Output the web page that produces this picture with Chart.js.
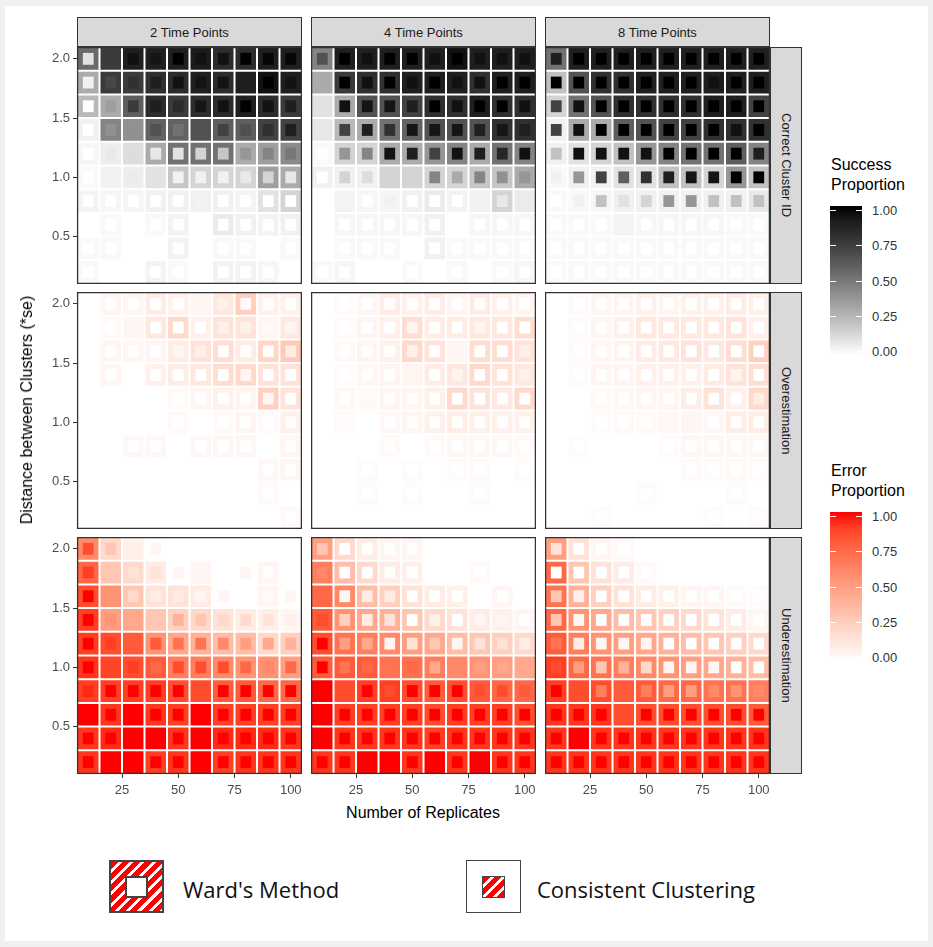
<!DOCTYPE html>
<html>
<head>
<meta charset="utf-8">
<script src="https://cdn.jsdelivr.net/npm/chart.js@4.4.1/dist/chart.umd.min.js"></script>
<style>
  body { margin: 0; background: #f0f0f0; font-family: "Liberation Sans", Arial, sans-serif; }
  #page { position: absolute; left: 5px; top: 6px; width: 923px; height: 935px; background: #fff; }
  .abs { position: absolute; white-space: nowrap; }
  .strip { position: absolute; box-sizing: border-box; background: #d9d9d9; border: 1px solid #333;
           color: #1a1a1a; font-size: 13px; display: flex; align-items: center; justify-content: center; }
  .strip.side { writing-mode: vertical-rl; }
  .title { font-size: 16px; color: #000; }
  .legtitle { font-size: 16px; line-height: 20px; color: #000; }
  .leglab { font-size: 13px; color: #333; transform: translateY(-50%); }
  .tick { position: absolute; height: 1px; background: #fff; }
  .stripes { background: repeating-linear-gradient(135deg, #ff0000 0 5px, #fff 5px 8px); }
  .keytext { font-family: "Open Sans", sans-serif; font-size: 22px; color: #111; transform: translateY(-50%); }
</style>
</head>
<body>
<div id="page"></div>
<script>
// x: number of replicates, y: distance between clusters
const REPLICATES = [10, 20, 30, 40, 50, 60, 70, 80, 90, 100];
const DISTANCES = [2.0, 1.8, 1.6, 1.4, 1.2, 1.0, 0.8, 0.6, 0.4, 0.2];
const X_TICKS = [25, 50, 75, 100];
const Y_TICKS = [0.5, 1.0, 1.5, 2.0];
const TIME_POINTS = ['2 Time Points', '4 Time Points', '8 Time Points'];
const OUTCOMES = ['Correct Cluster ID', 'Overestimation', 'Underestimation'];
const LEGEND_TICKS = [1.00, 0.75, 0.50, 0.25, 0.00];

// proportions, rows follow DISTANCES (top to bottom), columns follow REPLICATES
const WARD_CORRECT_2 = [
  [0.55, 0.75, 0.88, 0.88, 0.88, 0.9, 0.82, 0.82, 0.88, 0.88],
  [0.3, 0.75, 0.75, 0.8, 0.82, 0.88, 0.82, 0.88, 0.95, 0.88],
  [0.25, 0.3, 0.6, 0.82, 0.75, 0.82, 0.82, 0.88, 0.82, 0.75],
  [0.05, 0.45, 0.4, 0.58, 0.58, 0.65, 0.6, 0.6, 0.72, 0.72],
  [0.03, 0.06, 0.12, 0.3, 0.52, 0.52, 0.52, 0.3, 0.35, 0.42],
  [0.02, 0.05, 0.06, 0.1, 0.2, 0.15, 0.15, 0.15, 0.35, 0.3],
  [0.04, 0.03, 0.03, 0.05, 0.05, 0.05, 0.05, 0.04, 0.1, 0.15],
  [0, 0.02, 0, 0.02, 0.04, 0, 0.07, 0.05, 0.04, 0.05],
  [0.02, 0.02, 0, 0, 0.04, 0, 0.02, 0.02, 0, 0.02],
  [0.02, 0, 0, 0.04, 0.02, 0, 0.04, 0.04, 0.03, 0]
];
const CONS_CORRECT_2 = [
  [0.1, 0.75, 0.95, 0.93, 1, 0.95, 0.95, 1, 0.98, 0.98],
  [0.05, 0.7, 0.8, 0.88, 0.95, 0.94, 0.94, 0.88, 1, 0.94],
  [0, 0.35, 0.75, 0.88, 0.82, 0.93, 0.95, 1, 0.94, 0.88],
  [0, 0.4, 0.4, 0.65, 0.52, 0.65, 0.72, 0.66, 0.8, 0.88],
  [0, 0.08, 0.12, 0.08, 0.1, 0.15, 0.2, 0.38, 0.45, 0.5],
  [0, 0.05, 0.07, 0.1, 0.05, 0.05, 0.05, 0.08, 0.15, 0.08],
  [0, 0, 0, 0, 0, 0.04, 0, 0, 0, 0],
  [0, 0, 0, 0, 0, 0, 0, 0, 0, 0],
  [0, 0, 0, 0, 0, 0, 0, 0, 0, 0],
  [0, 0, 0, 0, 0, 0, 0, 0, 0, 0]
];
const WARD_CORRECT_4 = [
  [0.45, 0.88, 0.88, 0.88, 0.88, 0.88, 0.95, 0.88, 0.88, 0.88],
  [0.3, 0.75, 0.8, 0.8, 0.88, 0.88, 0.88, 0.8, 0.88, 0.88],
  [0.1, 0.3, 0.65, 0.65, 0.72, 0.8, 0.8, 0.88, 0.8, 0.8],
  [0.08, 0.25, 0.3, 0.52, 0.58, 0.65, 0.65, 0.65, 0.8, 0.8],
  [0.02, 0.15, 0.15, 0.3, 0.3, 0.38, 0.45, 0.3, 0.52, 0.45],
  [0.05, 0.05, 0.05, 0.15, 0.15, 0.15, 0.15, 0.2, 0.2, 0.3],
  [0, 0.04, 0.03, 0.03, 0.05, 0.07, 0.04, 0.05, 0.15, 0.07],
  [0, 0.03, 0.03, 0.03, 0.03, 0.05, 0, 0.03, 0.03, 0.03],
  [0, 0.02, 0.02, 0.02, 0, 0.05, 0.02, 0.02, 0.02, 0.02],
  [0.02, 0.03, 0, 0, 0.02, 0, 0.02, 0, 0.02, 0.03]
];
const CONS_CORRECT_4 = [
  [0.65, 1, 0.95, 1, 1, 0.95, 1, 0.95, 0.95, 0.95],
  [0.3, 1, 0.95, 1, 0.95, 1, 0.95, 0.95, 1, 1],
  [0.1, 0.95, 0.93, 0.93, 0.88, 1, 0.95, 1, 1, 0.95],
  [0.08, 0.72, 0.88, 0.8, 0.93, 0.93, 0.93, 0.88, 0.93, 0.88],
  [0, 0.38, 0.45, 0.95, 0.88, 0.72, 0.95, 0.88, 0.85, 0.95],
  [0, 0.15, 0.12, 0.15, 0.15, 0.45, 0.3, 0.45, 0.4, 0.38],
  [0, 0.04, 0, 0.05, 0, 0, 0, 0.05, 0.08, 0.07],
  [0, 0, 0, 0, 0, 0, 0, 0, 0, 0],
  [0, 0, 0, 0, 0, 0, 0, 0, 0, 0],
  [0, 0, 0, 0, 0, 0, 0, 0, 0, 0]
];
const WARD_CORRECT_8 = [
  [0.52, 0.88, 0.88, 0.88, 0.88, 0.88, 0.88, 0.88, 0.88, 0.88],
  [0.22, 0.65, 0.8, 0.8, 0.88, 0.88, 0.88, 0.88, 0.88, 0.88],
  [0.15, 0.52, 0.65, 0.8, 0.8, 0.8, 0.8, 0.88, 0.88, 0.72],
  [0.05, 0.3, 0.3, 0.6, 0.65, 0.72, 0.72, 0.8, 0.8, 0.8],
  [0.05, 0.1, 0.15, 0.22, 0.38, 0.45, 0.52, 0.52, 0.6, 0.45],
  [0.02, 0.05, 0.05, 0.1, 0.1, 0.22, 0.22, 0.15, 0.38, 0.22],
  [0.02, 0.02, 0.03, 0.05, 0.05, 0.05, 0.05, 0.05, 0.05, 0.08],
  [0.02, 0.02, 0.02, 0.04, 0.03, 0.03, 0.03, 0.03, 0.02, 0.02],
  [0.02, 0.02, 0.02, 0.02, 0.02, 0.02, 0.02, 0.02, 0.02, 0.02],
  [0.02, 0.02, 0.02, 0.02, 0.02, 0.02, 0.02, 0.02, 0.02, 0.02]
];
const CONS_CORRECT_8 = [
  [0.88, 1, 1, 1, 1, 1, 1, 1, 1, 1],
  [1, 1, 1, 1, 1, 1, 1, 0.95, 1, 1],
  [0.72, 0.95, 1, 1, 1, 1, 1, 1, 1, 1],
  [0.72, 0.95, 1, 1, 1, 1, 1, 1, 0.95, 1],
  [0.22, 0.95, 0.95, 0.95, 0.95, 1, 1, 1, 1, 0.88],
  [0.05, 0.38, 0.72, 0.6, 0.8, 0.88, 0.93, 0.93, 1, 1],
  [0, 0.05, 0.22, 0.1, 0.15, 0.38, 0.38, 0.22, 0.22, 0.22],
  [0, 0, 0, 0.04, 0, 0, 0, 0, 0, 0],
  [0, 0, 0, 0, 0, 0, 0, 0, 0, 0],
  [0, 0, 0, 0, 0, 0, 0, 0, 0, 0]
];
const WARD_OVER_2 = [
  [0, 0.05, 0.05, 0.1, 0.08, 0.05, 0.12, 0.25, 0.08, 0.08],
  [0, 0.03, 0.05, 0.12, 0.2, 0.08, 0.15, 0.15, 0.05, 0.12],
  [0, 0.05, 0.05, 0.05, 0.1, 0.15, 0.18, 0.1, 0.22, 0.28],
  [0, 0.05, 0, 0.08, 0.1, 0.12, 0.18, 0.2, 0.15, 0.15],
  [0, 0, 0, 0, 0.03, 0.05, 0.08, 0.06, 0.25, 0.15],
  [0, 0, 0, 0, 0.03, 0, 0.03, 0.06, 0.03, 0.08],
  [0, 0, 0.04, 0.04, 0, 0.04, 0.04, 0.04, 0, 0.05],
  [0, 0, 0, 0, 0, 0, 0, 0, 0.04, 0.05],
  [0, 0, 0, 0, 0, 0, 0, 0, 0.03, 0],
  [0, 0, 0, 0, 0, 0, 0, 0, 0, 0.03]
];
const CONS_OVER_2 = [
  [0, 0, 0, 0, 0, 0.05, 0.08, 0.03, 0, 0],
  [0, 0, 0.05, 0, 0, 0, 0.08, 0.08, 0.03, 0.05],
  [0, 0, 0, 0, 0.05, 0.08, 0, 0, 0, 0.1],
  [0, 0, 0, 0, 0, 0, 0, 0.05, 0, 0],
  [0, 0, 0, 0, 0, 0, 0, 0, 0.05, 0],
  [0, 0, 0, 0, 0, 0, 0, 0, 0, 0],
  [0, 0, 0, 0, 0, 0, 0, 0, 0, 0],
  [0, 0, 0, 0, 0, 0, 0, 0, 0, 0],
  [0, 0, 0, 0, 0, 0, 0, 0, 0, 0],
  [0, 0, 0, 0, 0, 0, 0, 0, 0, 0]
];
const WARD_OVER_4 = [
  [0, 0.02, 0.05, 0.1, 0.08, 0.1, 0.05, 0.1, 0.08, 0.06],
  [0, 0.02, 0.06, 0.08, 0.18, 0.1, 0.1, 0.12, 0.12, 0.18],
  [0, 0.03, 0.06, 0.08, 0.2, 0.15, 0.05, 0.18, 0.18, 0.15],
  [0, 0.02, 0.05, 0.06, 0.06, 0.1, 0.12, 0.2, 0.15, 0.12],
  [0, 0.04, 0.03, 0.06, 0.06, 0.08, 0.2, 0.15, 0.12, 0.2],
  [0, 0.02, 0, 0.04, 0.05, 0.08, 0.1, 0.08, 0.08, 0.08],
  [0, 0, 0, 0.03, 0, 0.03, 0.04, 0.04, 0.04, 0.03],
  [0, 0, 0.02, 0, 0.02, 0, 0.02, 0.02, 0, 0.02],
  [0, 0, 0.02, 0, 0.02, 0, 0, 0.02, 0, 0],
  [0, 0, 0, 0, 0, 0, 0, 0, 0, 0]
];
const CONS_OVER_4 = [
  [0, 0, 0, 0, 0, 0, 0, 0, 0, 0],
  [0, 0, 0, 0, 0.06, 0, 0, 0.05, 0, 0],
  [0, 0, 0, 0, 0.08, 0, 0.04, 0, 0, 0.08],
  [0, 0, 0, 0, 0.06, 0, 0.06, 0, 0, 0.08],
  [0, 0, 0.03, 0, 0, 0, 0, 0, 0, 0],
  [0, 0.02, 0, 0, 0, 0, 0, 0, 0, 0],
  [0, 0, 0, 0, 0, 0, 0, 0, 0, 0],
  [0, 0, 0, 0, 0, 0, 0, 0, 0, 0],
  [0, 0, 0, 0, 0, 0, 0, 0, 0, 0],
  [0, 0, 0, 0, 0, 0, 0, 0, 0, 0]
];
const WARD_OVER_8 = [
  [0, 0.03, 0.05, 0.06, 0.08, 0.06, 0.08, 0.08, 0.1, 0.08],
  [0, 0.02, 0.05, 0.08, 0.12, 0.12, 0.12, 0.12, 0.15, 0.08],
  [0, 0.02, 0.05, 0.06, 0.1, 0.12, 0.15, 0.12, 0.18, 0.25],
  [0, 0.02, 0.06, 0.06, 0.08, 0.08, 0.08, 0.1, 0.15, 0.18],
  [0, 0, 0.03, 0.04, 0.06, 0.06, 0.1, 0.15, 0.08, 0.2],
  [0, 0, 0.02, 0.03, 0.03, 0.04, 0.05, 0.04, 0.1, 0.1],
  [0, 0.02, 0, 0, 0, 0.02, 0.04, 0.04, 0.04, 0.04],
  [0, 0, 0, 0, 0, 0, 0.03, 0.02, 0.03, 0.02],
  [0, 0, 0, 0, 0.02, 0, 0, 0, 0.02, 0],
  [0, 0, 0.02, 0, 0, 0, 0, 0.02, 0, 0.02]
];
const CONS_OVER_8 = [
  [0, 0, 0, 0, 0, 0, 0, 0, 0, 0],
  [0, 0, 0, 0, 0, 0, 0, 0, 0, 0],
  [0, 0, 0, 0, 0, 0, 0, 0, 0, 0],
  [0, 0, 0, 0, 0, 0, 0, 0, 0.06, 0],
  [0, 0, 0, 0, 0, 0, 0, 0, 0, 0.1],
  [0, 0, 0, 0, 0, 0.04, 0.05, 0, 0, 0],
  [0, 0, 0, 0, 0, 0, 0, 0, 0, 0],
  [0, 0, 0, 0, 0, 0, 0, 0, 0, 0],
  [0, 0, 0, 0, 0, 0, 0, 0, 0, 0],
  [0, 0, 0, 0, 0, 0, 0, 0, 0, 0]
];
const WARD_UNDER_2 = [
  [0.6, 0.2, 0.08, 0, 0, 0, 0, 0, 0, 0],
  [0.75, 0.3, 0.2, 0.1, 0, 0.05, 0, 0, 0.05, 0],
  [0.85, 0.55, 0.3, 0.15, 0.15, 0.1, 0, 0, 0.05, 0],
  [0.9, 0.5, 0.45, 0.3, 0.25, 0.2, 0.15, 0.1, 0.08, 0.05],
  [0.9, 0.85, 0.8, 0.55, 0.45, 0.4, 0.35, 0.35, 0.2, 0.25],
  [0.92, 0.88, 0.85, 0.8, 0.65, 0.65, 0.6, 0.55, 0.55, 0.5],
  [0.9, 0.9, 0.9, 0.9, 0.85, 0.85, 0.8, 0.8, 0.75, 0.75],
  [1, 0.92, 1, 0.92, 0.9, 1, 0.9, 0.9, 0.9, 0.9],
  [0.92, 0.95, 1, 1, 0.92, 1, 0.95, 0.95, 0.95, 0.92],
  [0.92, 1, 1, 0.9, 0.92, 1, 0.9, 0.92, 0.92, 0.92]
];
const CONS_UNDER_2 = [
  [0.85, 0.3, 0.08, 0.05, 0, 0, 0, 0, 0, 0],
  [0.9, 0.3, 0.15, 0.15, 0.05, 0.05, 0, 0.05, 0, 0],
  [1, 0.55, 0.2, 0.1, 0.1, 0.05, 0.05, 0, 0.03, 0.05],
  [1, 0.55, 0.45, 0.3, 0.4, 0.3, 0.2, 0.2, 0.15, 0.08],
  [1, 0.9, 0.8, 0.8, 0.7, 0.7, 0.6, 0.5, 0.45, 0.4],
  [1, 0.88, 0.9, 0.75, 0.85, 0.85, 0.85, 0.75, 0.6, 0.75],
  [0.95, 1, 1, 1, 1, 0.85, 1, 1, 1, 1],
  [1, 1, 1, 1, 1, 1, 1, 1, 1, 1],
  [1, 1, 1, 1, 1, 1, 1, 1, 1, 1],
  [1, 1, 1, 1, 1, 1, 1, 1, 1, 1]
];
const WARD_UNDER_4 = [
  [0.5, 0.2, 0.1, 0.05, 0.05, 0, 0, 0, 0, 0],
  [0.65, 0.35, 0.2, 0.1, 0.08, 0, 0, 0.03, 0, 0],
  [0.75, 0.6, 0.35, 0.25, 0.15, 0.1, 0.08, 0, 0.05, 0],
  [0.8, 0.55, 0.45, 0.4, 0.3, 0.2, 0.15, 0.1, 0.08, 0.05],
  [0.85, 0.7, 0.65, 0.6, 0.5, 0.45, 0.35, 0.3, 0.25, 0.2],
  [0.8, 0.8, 0.8, 0.7, 0.7, 0.65, 0.6, 0.55, 0.5, 0.45],
  [1, 0.85, 0.9, 0.9, 0.85, 0.8, 0.85, 0.8, 0.75, 0.75],
  [1, 0.9, 0.9, 0.9, 0.9, 0.85, 0.9, 0.9, 0.9, 0.85],
  [1, 0.92, 0.92, 0.92, 0.92, 0.9, 0.92, 0.92, 0.92, 0.92],
  [0.92, 0.92, 1, 1, 0.92, 1, 0.92, 1, 0.92, 0.92]
];
const CONS_UNDER_4 = [
  [0.3, 0, 0, 0, 0, 0, 0, 0, 0, 0],
  [0.6, 0, 0, 0, 0, 0, 0, 0, 0, 0],
  [0.75, 0.05, 0.1, 0.1, 0, 0, 0, 0, 0, 0],
  [0.85, 0.25, 0.1, 0.15, 0, 0.08, 0, 0.05, 0.05, 0],
  [1, 0.5, 0.45, 0.05, 0.15, 0.3, 0.05, 0.15, 0.15, 0.1],
  [1, 0.7, 0.75, 0.7, 0.75, 0.45, 0.6, 0.5, 0.45, 0.45],
  [1, 0.85, 1, 0.85, 1, 1, 1, 0.85, 0.85, 0.8],
  [1, 1, 1, 1, 1, 1, 1, 1, 1, 1],
  [1, 1, 1, 1, 1, 1, 1, 1, 1, 1],
  [1, 1, 1, 1, 1, 1, 1, 1, 1, 1]
];
const WARD_UNDER_8 = [
  [0.5, 0.15, 0.05, 0.03, 0, 0, 0, 0, 0, 0],
  [0.75, 0.3, 0.15, 0.1, 0.03, 0, 0, 0, 0, 0],
  [0.7, 0.4, 0.25, 0.15, 0.1, 0.08, 0.05, 0.05, 0.02, 0.02],
  [0.75, 0.55, 0.45, 0.35, 0.3, 0.25, 0.2, 0.15, 0.1, 0.05],
  [0.8, 0.65, 0.55, 0.5, 0.45, 0.4, 0.35, 0.3, 0.25, 0.2],
  [0.9, 0.75, 0.7, 0.65, 0.6, 0.55, 0.5, 0.45, 0.4, 0.35],
  [0.9, 0.85, 0.85, 0.8, 0.8, 0.75, 0.75, 0.7, 0.7, 0.65],
  [0.92, 0.92, 0.92, 0.85, 0.85, 0.85, 0.85, 0.85, 0.85, 0.8],
  [0.92, 1, 0.92, 0.92, 0.92, 0.92, 0.92, 0.92, 0.92, 0.92],
  [0.92, 0.92, 0.92, 0.92, 0.92, 0.92, 0.92, 0.92, 0.92, 0.92]
];
const CONS_UNDER_8 = [
  [0.15, 0, 0, 0, 0, 0, 0, 0, 0, 0],
  [0, 0, 0, 0, 0, 0, 0, 0, 0, 0],
  [0.3, 0.08, 0, 0, 0, 0, 0, 0, 0, 0],
  [0.3, 0.05, 0, 0, 0, 0, 0, 0, 0, 0],
  [0.7, 0.1, 0.05, 0.05, 0.05, 0, 0, 0, 0, 0],
  [0.85, 0.5, 0.3, 0.4, 0.2, 0.05, 0.05, 0.05, 0, 0],
  [1, 0.85, 0.65, 0.8, 0.65, 0.5, 0.5, 0.6, 0.55, 0.6],
  [1, 1, 1, 0.85, 1, 1, 1, 1, 1, 1],
  [1, 1, 1, 1, 1, 1, 1, 1, 1, 1],
  [1, 1, 1, 1, 1, 1, 1, 1, 1, 1]
];

const WARD = [
  [WARD_CORRECT_2, WARD_CORRECT_4, WARD_CORRECT_8],
  [WARD_OVER_2, WARD_OVER_4, WARD_OVER_8],
  [WARD_UNDER_2, WARD_UNDER_4, WARD_UNDER_8]
];
const CONSISTENT = [
  [CONS_CORRECT_2, CONS_CORRECT_4, CONS_CORRECT_8],
  [CONS_OVER_2, CONS_OVER_4, CONS_OVER_8],
  [CONS_UNDER_2, CONS_UNDER_4, CONS_UNDER_8]
];

// layout
const COL_LEFT = [77, 311, 545];
const ROW_TOP = [47, 292, 537];
const PANEL_W = 225, PANEL_H = 237;
const Y_AXIS_W = 42, X_AXIS_H = 26;

// white -> high colour, interpolated in CIELAB like ggplot's gradient
function labToCss(L, A, B) {
  const fy = (L + 16) / 116, fx = fy + A / 500, fz = fy - B / 200;
  const inv = t => (t ** 3 > 0.008856 ? t ** 3 : (t - 16 / 116) / 7.787);
  const X = 0.95047 * inv(fx), Y = inv(fy), Z = 1.08883 * inv(fz);
  const lin = [
    3.2406 * X - 1.5372 * Y - 0.4986 * Z,
    -0.9689 * X + 1.8758 * Y + 0.0415 * Z,
    0.0557 * X - 0.2040 * Y + 1.0570 * Z
  ];
  const rgb = lin.map(c => {
    c = Math.max(0, Math.min(1, c));
    return Math.round(255 * (c <= 0.0031308 ? 12.92 * c : 1.055 * c ** (1 / 2.4) - 0.055));
  });
  return 'rgb(' + rgb.join(',') + ')';
}
function ramp(high) {
  return p => labToCss(100 + (high[0] - 100) * p, high[1] * p, high[2] * p);
}
const greyRamp = ramp([0, 0, 0]);
const redRamp = ramp([53.24, 80.09, 67.2]);

Chart.defaults.font.family = '"Liberation Sans", Arial, sans-serif';

const panelBorder = {
  id: 'panelBorder',
  afterDatasetsDraw(chart) {
    const a = chart.chartArea, ctx = chart.ctx;
    ctx.save();
    ctx.strokeStyle = '#333';
    ctx.lineWidth = 1.3;
    ctx.strokeRect(a.left + 0.6, a.top + 0.6, a.width - 1.2, a.height - 1.2);
    ctx.restore();
  }
};

function addDiv(cls, text, css) {
  const d = document.createElement('div');
  d.className = cls;
  if (text !== null) d.textContent = text;
  d.style.cssText = css;
  document.body.appendChild(d);
  return d;
}

// keep every panel's plotting area the same size, whatever its axes
function fixSize(s, size, horizontal) {
  if (horizontal) s.height = size; else s.width = size;
  s.paddingTop = s.paddingBottom = s.paddingLeft = s.paddingRight = 0;
}

function makePanel(row, col) {
  const ward = WARD[row][col], cons = CONSISTENT[row][col];
  const colour = row === 0 ? greyRamp : redRamp;
  const showY = col === 0, showX = row === 2;
  const w = PANEL_W + (showY ? Y_AXIS_W : 0), h = PANEL_H + (showX ? X_AXIS_H : 0);
  const canvas = document.createElement('canvas');
  canvas.width = w;
  canvas.height = h;
  canvas.style.cssText = 'position:absolute;left:' + (COL_LEFT[col] - (showY ? Y_AXIS_W : 0)) +
    'px;top:' + ROW_TOP[row] + 'px;width:' + w + 'px;height:' + h + 'px';
  document.body.appendChild(canvas);

  const outer = [], inner = [];
  DISTANCES.forEach((d, i) => REPLICATES.forEach((n, j) => {
    outer.push({ x: n, y: [d - 0.1, d + 0.1], p: ward[i][j] });
    inner.push({ x: n, y: [d - 0.05, d + 0.05], p: cons[i][j] });
  }));

  const tickStyle = { color: '#4d4d4d', font: { size: 13 }, autoSkip: false, maxRotation: 0 };
  const gridStyle = { drawOnChartArea: false, drawTicks: true, tickLength: 4, color: '#333', offset: false };

  new Chart(canvas, {
    type: 'bar',
    data: {
      datasets: [
        { label: "Ward's Method", data: outer, order: 2, backgroundColor: outer.map(o => colour(o.p)),
          borderColor: '#fff', borderWidth: 1, barPercentage: 1, categoryPercentage: 1 },
        { label: 'Consistent Clustering', data: inner, order: 1, backgroundColor: inner.map(o => colour(o.p)),
          borderWidth: 0, barPercentage: 0.48, categoryPercentage: 1 }
      ]
    },
    options: {
      responsive: false,
      animation: false,
      devicePixelRatio: 1,
      layout: { padding: 0 },
      datasets: { bar: { grouped: false, borderSkipped: false, inflateAmount: 0 } },
      plugins: { legend: { display: false }, tooltip: { enabled: false } },
      scales: {
        x: {
          type: 'linear', min: 5, max: 105, offset: false, display: showX,
          afterBuildTicks: s => { s.ticks = X_TICKS.map(v => ({ value: v })); },
          afterFit: s => fixSize(s, showX ? X_AXIS_H : 0, true),
          ticks: Object.assign({ callback: v => String(v), padding: 5 }, tickStyle),
          grid: gridStyle, border: { display: false }
        },
        y: {
          type: 'linear', min: 0.1, max: 2.1, display: showY,
          afterBuildTicks: s => { s.ticks = Y_TICKS.map(v => ({ value: v })); },
          afterFit: s => fixSize(s, showY ? Y_AXIS_W : 0, false),
          ticks: Object.assign({ callback: v => Number(v).toFixed(1), padding: 3 }, tickStyle),
          grid: gridStyle, border: { display: false }
        }
      }
    },
    plugins: [panelBorder]
  });
}

for (let r = 0; r < 3; r++) for (let c = 0; c < 3; c++) makePanel(r, c);

// facet strips
TIME_POINTS.forEach((t, c) => {
  addDiv('strip', t, 'left:' + COL_LEFT[c] + 'px;top:17px;width:' + PANEL_W + 'px;height:30px;');
});
OUTCOMES.forEach((t, r) => {
  addDiv('strip side', t, 'left:770px;top:' + ROW_TOP[r] + 'px;width:32px;height:' + PANEL_H + 'px;');
});

// axis titles
addDiv('abs title', 'Distance between Clusters (*se)',
  'left:27px;top:410px;transform:translate(-50%,-50%) rotate(-90deg);');
addDiv('abs title', 'Number of Replicates', 'left:423px;top:813px;transform:translate(-50%,-50%);');

// colour bar legends
function colourBar(title, top, colour) {
  addDiv('abs legtitle', title, 'left:831px;top:' + (top - 51) + 'px;white-space:pre;');
  const stops = [];
  for (let i = 0; i <= 10; i++) stops.push(colour(i / 10) + ' ' + (i * 10) + '%');
  addDiv('abs', null, 'left:830px;top:' + top + 'px;width:32px;height:149px;background:linear-gradient(to top,' + stops.join(',') + ');');
  LEGEND_TICKS.forEach((v, i) => {
    const y = top + 4 + i * 35.25;
    addDiv('abs leglab', v.toFixed(2), 'left:872px;top:' + y + 'px;');
    addDiv('tick', null, 'left:830px;top:' + y + 'px;width:6px;');
    addDiv('tick', null, 'left:856px;top:' + y + 'px;width:6px;');
  });
}
colourBar('Success\nProportion', 206, greyRamp);
colourBar('Error\nProportion', 512, redRamp);

// method key
addDiv('abs stripes', null, 'left:109px;top:860px;width:55px;height:53px;box-sizing:border-box;border:2px solid #444;');
addDiv('abs', null, 'left:125px;top:876px;width:23px;height:22px;box-sizing:border-box;border:2px solid #444;background:#fff;');
addDiv('abs keytext', "Ward's Method", 'left:183px;top:889px;');
addDiv('abs', null, 'left:466px;top:860px;width:55px;height:53px;box-sizing:border-box;border:1.5px solid #444;background:#fff;');
addDiv('abs stripes', null, 'left:482px;top:876px;width:23px;height:22px;box-sizing:border-box;border:1.5px solid #444;');
addDiv('abs keytext', 'Consistent Clustering', 'left:537px;top:889px;');
</script>
</body>
</html>
